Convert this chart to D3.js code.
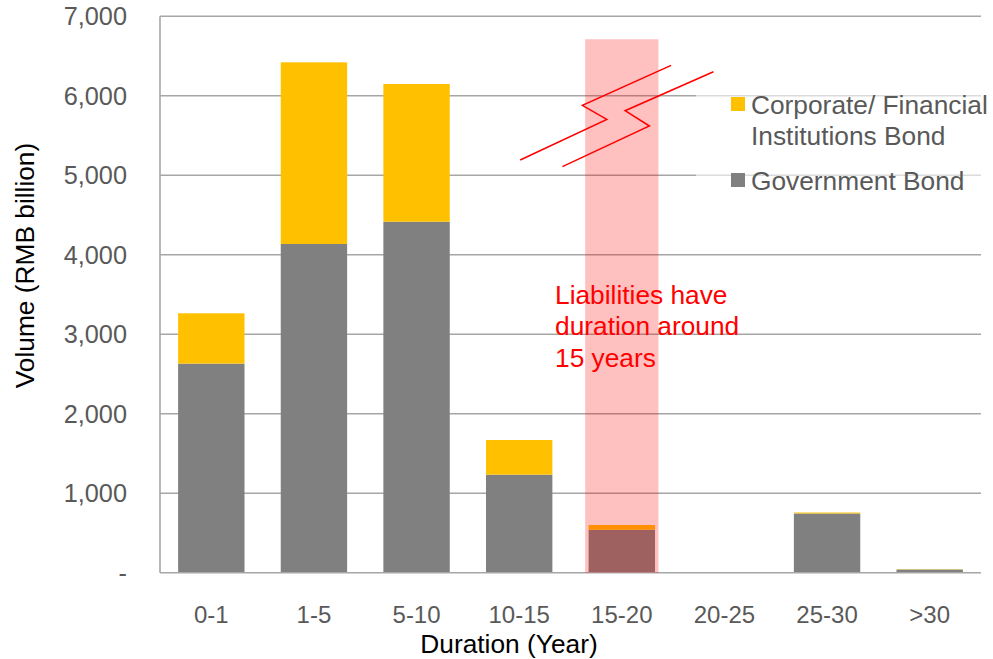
<!DOCTYPE html>
<html>
<head>
<meta charset="utf-8">
<script src="https://cdn.jsdelivr.net/npm/d3@7/dist/d3.min.js"></script>
<style>
  html, body { margin: 0; padding: 0; background: #fff; }
  svg { display: block; font-family: "Liberation Sans", Arial, sans-serif; }
</style>
</head>
<body>
<svg id="chart" width="993" height="659"></svg>
<script>
// Bond volume by duration bucket (RMB billion)
const categories = ["0-1", "1-5", "5-10", "10-15", "15-20", "20-25", "25-30", ">30"];
const governmentBond = [2630, 4135, 4415, 1233, 540, 0, 745, 40];
const corporateBond = [633, 2285, 1732, 436, 60, 0, 12, 4];
const yTicks = [0, 1000, 2000, 3000, 4000, 5000, 6000, 7000];
const seriesNames = ["Corporate/ Financial\nInstitutions Bond", "Government Bond"];
const seriesColors = ["#FFC000", "#808080"];

// Highlighted liability bucket and its extent
const highlightCategory = "15-20";
const highlightTop = 6710;
const noteLines = ["Liabilities have", "duration around", "15 years"];

// Axis-break marker: [offset in category steps from the highlighted bucket centre, value]
const breakLine1 = [[-0.99, 5191], [-0.146, 5703], [-0.384, 5879], [0.48, 6382]];
const breakLine2 = [[-0.579, 5107], [0.269, 5619], [0.032, 5811], [0.893, 6302]];

const svg = d3.select("#chart");
const plotLeft = 160, plotRight = 981, plotTop = 16.2, plotBottom = 572.7;
const gridColor = "#A6A6A6";
const labelColor = "#595959";
const bigFont = 26.3;

const x = d3.scaleBand().domain(categories).range([plotLeft, plotRight])
  .paddingInner(0.353).paddingOuter(0.1765);
const y = d3.scaleLinear().domain([0, 7000]).range([plotBottom, plotTop]);

// Gridlines
svg.append("g").selectAll("line").data(yTicks.filter(d => d > 0)).join("line")
  .attr("x1", plotLeft).attr("x2", plotRight)
  .attr("y1", d => y(d)).attr("y2", d => y(d))
  .attr("stroke", gridColor).attr("stroke-width", 1.6);

// Y axis labels
const fmt = d3.format(",");
svg.append("g").selectAll("text").data(yTicks).join("text")
  .attr("x", 127).attr("y", d => y(d) + 9)
  .attr("text-anchor", "end")
  .attr("font-size", 25.3).attr("fill", labelColor)
  .text(d => d === 0 ? "-" : fmt(d));

// Stacked bars
const rows = categories.map((c, i) => ({ cat: c, gov: governmentBond[i], corp: corporateBond[i] }));
const bars = svg.append("g");
bars.selectAll("rect.gov").data(rows).join("rect").attr("class", "gov")
  .attr("x", d => x(d.cat)).attr("width", x.bandwidth())
  .attr("y", d => y(d.gov)).attr("height", d => y(0) - y(d.gov))
  .attr("fill", seriesColors[1]);
bars.selectAll("rect.corp").data(rows).join("rect").attr("class", "corp")
  .attr("x", d => x(d.cat)).attr("width", x.bandwidth())
  .attr("y", d => y(d.gov + d.corp)).attr("height", d => y(d.gov) - y(d.gov + d.corp))
  .attr("fill", seriesColors[0]);

// Axis lines
svg.append("line").attr("x1", plotLeft).attr("x2", plotRight).attr("y1", y(0)).attr("y2", y(0))
  .attr("stroke", gridColor).attr("stroke-width", 1.6);
svg.append("line").attr("x1", plotLeft).attr("x2", plotLeft).attr("y1", y(7000)).attr("y2", y(0))
  .attr("stroke", gridColor).attr("stroke-width", 1.6);

// X axis labels
svg.append("g").selectAll("text").data(categories).join("text")
  .attr("x", d => x(d) + x.bandwidth() / 2).attr("y", 622.5)
  .attr("text-anchor", "middle")
  .attr("font-size", 24).attr("fill", labelColor)
  .text(d => d);

// Axis titles
svg.append("text").attr("x", 509).attr("y", 652.5)
  .attr("text-anchor", "middle").attr("font-size", bigFont).attr("fill", "#000")
  .text("Duration (Year)");
svg.append("text").attr("transform", "translate(33.5,265.5) rotate(-90)")
  .attr("text-anchor", "middle").attr("font-size", bigFont).attr("fill", "#000")
  .text("Volume (RMB billion)");

// Highlight band over the liability bucket
const step = x.step();
const hc = x(highlightCategory) + x.bandwidth() / 2;
const bandW = step * 0.714;
svg.append("rect")
  .attr("x", hc - bandW / 2).attr("width", bandW)
  .attr("y", y(highlightTop)).attr("height", y(0) - y(highlightTop))
  .attr("fill", "#FF0000").attr("fill-opacity", 0.247);

// Axis-break marker
const breakGen = d3.line().x(d => hc + d[0] * step).y(d => y(d[1]));
[breakLine1, breakLine2].forEach(pts => {
  svg.append("path").attr("d", breakGen(pts))
    .attr("fill", "none").attr("stroke", "#FF0000").attr("stroke-width", 1.5);
});

// Note
const note = svg.append("text").attr("font-size", bigFont).attr("fill", "#FF0000");
noteLines.forEach((t, i) => {
  note.append("tspan").attr("x", 555).attr("y", 303.5 + i * 31.7).text(t);
});

// Legend
const legend = svg.append("g");
legend.append("rect").attr("x", 696).attr("y", 84).attr("width", 297).attr("height", 116)
  .attr("fill", "#fff").attr("fill-opacity", 0.6);
const legendY = [114, 190];
seriesNames.forEach((name, i) => {
  legend.append("rect").attr("x", 731).attr("y", legendY[i] - 17).attr("width", 14).attr("height", 14)
    .attr("fill", seriesColors[i]);
  const t = legend.append("text").attr("font-size", bigFont).attr("fill", labelColor);
  name.split("\n").forEach((line, j) => {
    t.append("tspan").attr("x", 751).attr("y", legendY[i] + j * 30.5).text(line);
  });
});
</script>
</body>
</html>
